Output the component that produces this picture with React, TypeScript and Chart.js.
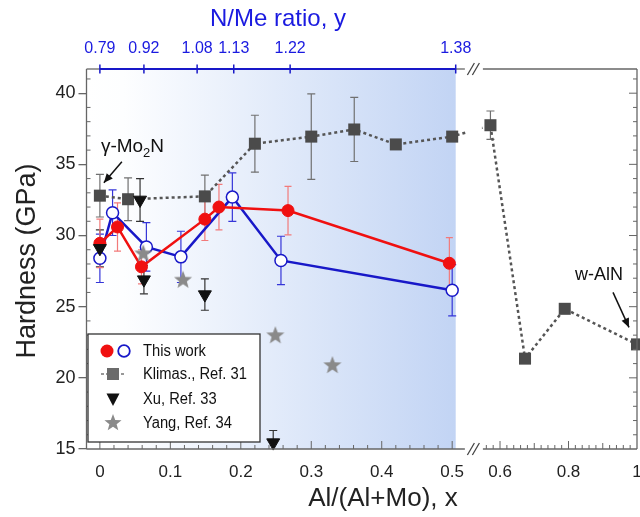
import React, { useEffect, useRef } from 'react';
import { Chart, registerables } from 'chart.js';

Chart.register(...registerables);

// ---------------- data ----------------
const RED_X = [0, 0.025, 0.059, 0.149, 0.169, 0.267, 0.496];
const RED_Y = [29.45, 30.6, 27.8, 31.15, 32.0, 31.75, 28.05];
const RED_ERR = [1.7, 1.7, 1.2, 1.5, 1.6, 1.7, 1.8];

const BLUE_X = [0, 0.018, 0.066, 0.115, 0.188, 0.257, 0.5];
const BLUE_Y = [28.4, 31.6, 29.2, 28.5, 32.7, 28.25, 26.15];
const BLUE_ERR = [1.7, 1.6, 1.7, 1.8, 1.7, 1.7, 1.8];

const KLIMAS_X = [0, 0.04, 0.149, 0.22, 0.3, 0.361, 0.42, 0.5, 0.572, 0.673, 0.789, 1.0];
const KLIMAS_Y = [32.8, 32.55, 32.75, 36.45, 36.95, 37.45, 36.4, 36.95, 37.75, 21.35, 24.85, 22.35];
const KLIMAS_ERR = [1.5, 1.5, 1.5, 2.0, 3.0, 2.25, 0, 0.3, 1.0, 0, 0, 0];

const XU_X = [0, 0.057, 0.0625, 0.149, 0.246];
const XU_Y = [29.1, 32.5, 26.9, 25.85, 15.45];
const XU_ERR = [1.3, 1.5, 1.0, 1.1, 0.85];

const YANG_X = [0.0616, 0.118, 0.249, 0.33];
const YANG_Y = [28.75, 26.9, 23.0, 20.9];

const X_TICKS = [0, 0.1, 0.2, 0.3, 0.4, 0.5, 0.6, 0.8, 1];
const X_TICK_LABELS = ['0', '0.1', '0.2', '0.3', '0.4', '0.5', '0.6', '0.8', '1'];
const Y_TICKS = [15, 20, 25, 30, 35, 40];
const TOP_POS = [0, 0.0625, 0.138, 0.19, 0.27, 0.505];
const TOP_LABELS = ['0.79', '0.92', '1.08', '1.13', '1.22', '1.38'];

// ---------------- broken-axis mapping ----------------
const LEFT_END = 0.518;
const RIGHT_START = 0.55;
const GAP = 0.0256;
const RATIO = 0.486;
const X_MIN = -0.019;
const V = (x: number) => (x <= LEFT_END ? x : LEFT_END + GAP + (x - RIGHT_START) * RATIO);
const X_MAX = V(1);
const Y_MIN = 15;
const Y_MAX = 41.7;

const FONT = '"Liberation Sans", Arial, Helvetica, sans-serif';
const BLUE = '#1818c8';
const TOPBLUE = '#1a1ae0';
const RED = '#f01010';
const FRAME = '#666666';

function starPath(ctx: CanvasRenderingContext2D, cx: number, cy: number, R: number, r: number) {
  ctx.beginPath();
  for (let i = 0; i < 10; i++) {
    const ang = -Math.PI / 2 + (i * Math.PI) / 5;
    const rad = i % 2 === 0 ? R : r;
    const x = cx + Math.cos(ang) * rad;
    const y = cy + Math.sin(ang) * rad;
    if (i === 0) ctx.moveTo(x, y);
    else ctx.lineTo(x, y);
  }
  ctx.closePath();
}

function arrow(ctx: CanvasRenderingContext2D, x1: number, y1: number, x2: number, y2: number) {
  ctx.beginPath();
  ctx.moveTo(x1, y1);
  ctx.lineTo(x2, y2);
  ctx.stroke();
  const ang = Math.atan2(y2 - y1, x2 - x1);
  const L = 9;
  const W = 4;
  ctx.beginPath();
  ctx.moveTo(x2, y2);
  ctx.lineTo(x2 - L * Math.cos(ang) + W * Math.sin(ang), y2 - L * Math.sin(ang) - W * Math.cos(ang));
  ctx.lineTo(x2 - L * Math.cos(ang) - W * Math.sin(ang), y2 - L * Math.sin(ang) + W * Math.cos(ang));
  ctx.closePath();
  ctx.fill();
}

function line(ctx: CanvasRenderingContext2D, x1: number, y1: number, x2: number, y2: number) {
  ctx.beginPath();
  ctx.moveTo(x1, y1);
  ctx.lineTo(x2, y2);
  ctx.stroke();
}

const ERRBARS = [
  { xs: KLIMAS_X, ys: KLIMAS_Y, es: KLIMAS_ERR, color: '#707070', cap: 4 },
  { xs: XU_X, ys: XU_Y, es: XU_ERR, color: '#333333', cap: 4 },
  { xs: BLUE_X, ys: BLUE_Y, es: BLUE_ERR, color: '#3535d8', cap: 4 },
  { xs: RED_X, ys: RED_Y, es: RED_ERR, color: '#f27a7a', cap: 3.5 },
];

const decorPlugin = {
  id: 'decor',
  beforeDatasetsDraw(chart: any) {
    const { ctx, chartArea: a, scales } = chart;
    const px = (x: number) => scales.x.getPixelForValue(V(x));
    const py = (y: number) => scales.y.getPixelForValue(y);
    ctx.save();
    const shadeEnd = px(TOP_POS[TOP_POS.length - 1]);
    const g = ctx.createLinearGradient(a.left, 0, shadeEnd, 0);
    g.addColorStop(0, '#ffffff');
    g.addColorStop(0.1, '#fdfeff');
    g.addColorStop(1, '#c2d4f4');
    ctx.fillStyle = g;
    ctx.fillRect(a.left, a.top, shadeEnd - a.left, a.bottom - a.top);

    ctx.beginPath();
    ctx.rect(a.left, a.top, a.right - a.left, a.bottom - a.top);
    ctx.clip();
    ctx.lineWidth = 1.2;
    for (const eb of ERRBARS) {
      ctx.strokeStyle = eb.color;
      eb.xs.forEach((x, i) => {
        const e = eb.es[i];
        if (!e) return;
        const cx = px(x);
        const t = py(eb.ys[i] + e);
        const b = py(eb.ys[i] - e);
        line(ctx, cx, t, cx, b);
        line(ctx, cx - eb.cap, t, cx + eb.cap, t);
        line(ctx, cx - eb.cap, b, cx + eb.cap, b);
      });
    }
    ctx.restore();
  },
  afterDatasetsDraw(chart: any) {
    const { ctx, chartArea: a, scales } = chart;
    const px = (x: number) => scales.x.getPixelForValue(V(x));
    const py = (y: number) => scales.y.getPixelForValue(y);
    const gapL = scales.x.getPixelForValue(LEFT_END);
    const gapR = scales.x.getPixelForValue(LEFT_END + GAP);
    ctx.save();
    // erase plot content inside the axis break
    ctx.fillStyle = '#ffffff';
    ctx.fillRect(gapL + 1, a.top + 1, gapR - gapL - 2, a.bottom - a.top - 2);

    // frame
    ctx.strokeStyle = FRAME;
    ctx.lineWidth = 1.3;
    line(ctx, a.left, a.top, a.left, a.bottom);
    line(ctx, a.right, a.top, a.right, a.bottom);
    line(ctx, a.left, a.bottom, gapL, a.bottom);
    line(ctx, gapR, a.bottom, a.right, a.bottom);
    const t0 = px(TOP_POS[0]);
    const t1 = px(TOP_POS[TOP_POS.length - 1]);
    line(ctx, a.left, a.top, t0, a.top);
    line(ctx, t1, a.top, gapL, a.top);
    line(ctx, gapR, a.top, a.right, a.top);

    // inward ticks, y
    ctx.lineWidth = 1;
    for (let v = 16; v <= 41; v++) {
      const y = py(v);
      const major = v % 5 === 0;
      if (!major) line(ctx, a.left, y, a.left + 4, y);
      line(ctx, a.right, y, a.right - (major ? 8 : 4), y);
    }
    // inward ticks, x
    for (let k = 0; k <= 25; k++) {
      const v = k * 0.02;
      const x = px(v);
      const major = k % 5 === 0;
      line(ctx, x, a.bottom, x, a.bottom - (major ? 8 : 4));
    }
    for (let k = 28; k <= 49; k++) {
      const v = k * 0.02;
      const x = px(v);
      const major = k % 10 === 0;
      line(ctx, x, a.bottom, x, a.bottom - (major ? 8 : k % 5 === 0 ? 6 : 4));
    }

    // break marks
    const gc = (gapL + gapR) / 2;
    ctx.strokeStyle = '#444';
    ctx.lineWidth = 1.3;
    for (const yy of [a.top, a.bottom]) {
      for (const dx of [-3, 2]) {
        line(ctx, gc + dx - 3.5, yy + 6, gc + dx + 3.5, yy - 6);
      }
    }

    // top (blue) axis
    ctx.strokeStyle = BLUE;
    ctx.lineWidth = 2;
    line(ctx, t0, a.top, t1, a.top);
    ctx.lineWidth = 1.5;
    TOP_POS.forEach((v) => {
      const x = px(v);
      line(ctx, x, a.top - 4.5, x, a.top + 4.5);
    });

    // legend
    const lx = a.left + 1.5;
    const ly = a.bottom - 115;
    const lw = 172;
    const lh = 108;
    ctx.fillStyle = '#ffffff';
    ctx.fillRect(lx, ly, lw, lh);
    ctx.strokeStyle = '#333';
    ctx.lineWidth = 1.3;
    ctx.strokeRect(lx, ly, lw, lh);
    const rows = [ly + 17, ly + 40, ly + 65, ly + 89];
    const mx = lx + 25;
    // row 1
    ctx.fillStyle = RED;
    ctx.beginPath();
    ctx.arc(lx + 19, rows[0], 6.5, 0, Math.PI * 2);
    ctx.fill();
    ctx.strokeStyle = BLUE;
    ctx.lineWidth = 1.8;
    ctx.beginPath();
    ctx.arc(lx + 36, rows[0], 5.8, 0, Math.PI * 2);
    ctx.stroke();
    // row 2
    ctx.strokeStyle = '#777';
    ctx.lineWidth = 1.5;
    ctx.setLineDash([3, 2]);
    line(ctx, lx + 13, rows[1], lx + 38, rows[1]);
    ctx.setLineDash([]);
    ctx.fillStyle = '#6b6b6b';
    ctx.fillRect(mx - 6, rows[1] - 6, 12, 12);
    // row 3
    ctx.fillStyle = '#111';
    ctx.beginPath();
    ctx.moveTo(mx - 6.5, rows[2] - 5.5);
    ctx.lineTo(mx + 6.5, rows[2] - 5.5);
    ctx.lineTo(mx, rows[2] + 7);
    ctx.closePath();
    ctx.fill();
    // row 4
    ctx.fillStyle = '#8a8a8a';
    starPath(ctx, mx, rows[3], 9, 3.8);
    ctx.fill();
    const labels = ['This work', 'Klimas., Ref. 31', 'Xu, Ref. 33', 'Yang, Ref. 34'];
    ctx.fillStyle = '#111';
    ctx.font = `16px ${FONT}`;
    ctx.textBaseline = 'middle';
    ctx.textAlign = 'left';
    labels.forEach((t, i) => {
      ctx.save();
      ctx.translate(lx + 55, rows[i] + 1);
      ctx.scale(0.92, 1);
      ctx.fillText(t, 0, 0);
      ctx.restore();
    });

    // annotations
    ctx.fillStyle = '#111';
    ctx.strokeStyle = '#111';
    ctx.lineWidth = 1.5;
    ctx.textBaseline = 'alphabetic';
    const gx = px(0);
    const gy = py(KLIMAS_Y[0]);
    ctx.font = `19px ${FONT}`;
    let tx = gx + 1;
    const base = gy - 44;
    ctx.fillText('γ-Mo', tx, base);
    tx += ctx.measureText('γ-Mo').width;
    ctx.font = `13px ${FONT}`;
    ctx.fillText('2', tx, base + 5);
    tx += ctx.measureText('2').width;
    ctx.font = `19px ${FONT}`;
    ctx.fillText('N', tx, base);
    arrow(ctx, gx + 22, gy - 34, gx + 4, gy - 13);

    const wx = px(1);
    const wy = py(KLIMAS_Y[KLIMAS_Y.length - 1]);
    ctx.font = `18px ${FONT}`;
    ctx.fillText('w-AlN', wx - 62, wy - 64);
    arrow(ctx, wx - 24, wy - 52, wx - 8, wy - 17);

    // axis titles
    ctx.fillStyle = '#222';
    ctx.textAlign = 'center';
    ctx.textBaseline = 'middle';
    ctx.font = `26px ${FONT}`;
    ctx.fillText('Al/(Al+Mo), x', 383, 499);
    ctx.save();
    ctx.translate(28, (a.top + a.bottom) / 2 + 2);
    ctx.rotate(-Math.PI / 2);
    ctx.font = `27px ${FONT}`;
    ctx.fillText('Hardness (GPa)', 0, 0);
    ctx.restore();
    ctx.fillStyle = TOPBLUE;
    ctx.font = `24px ${FONT}`;
    ctx.fillText('N/Me ratio, y', 278, 19);
    ctx.restore();
  },
};

export default function App() {
  const ref = useRef<HTMLCanvasElement | null>(null);
  useEffect(() => {
    const canvas = ref.current;
    if (!canvas) return;
    const star = document.createElement('canvas');
    star.width = 20;
    star.height = 20;
    const sctx = star.getContext('2d')!;
    sctx.fillStyle = '#8a8a8a';
    starPath(sctx, 10, 10.5, 9.5, 4);
    sctx.fill();

    const pts = (xs: number[], ys: number[]) => xs.map((x, i) => ({ x: V(x), y: ys[i] }));
    const chart = new Chart(canvas, {
      type: 'scatter',
      data: {
        datasets: [
          {
            label: 'Xu, Ref. 33',
            data: pts(XU_X, XU_Y),
            showLine: false,
            pointStyle: 'triangle',
            pointRotation: 180,
            pointRadius: 7.5,
            pointBackgroundColor: '#111',
            pointBorderColor: '#111',
            pointBorderWidth: 1,
            clip: false,
          } as any,
          {
            label: 'Yang, Ref. 34',
            data: pts(YANG_X, YANG_Y),
            showLine: false,
            pointStyle: star,
            pointRadius: 9,
            clip: false,
          } as any,
          {
            label: 'This work',
            data: pts(RED_X, RED_Y),
            showLine: true,
            borderColor: RED,
            borderWidth: 2.5,
            pointRadius: 6,
            pointBackgroundColor: RED,
            pointBorderColor: RED,
            pointBorderWidth: 1,
            clip: false,
          } as any,
          {
            label: 'This work (open)',
            data: pts(BLUE_X, BLUE_Y),
            showLine: true,
            borderColor: BLUE,
            borderWidth: 2.5,
            pointRadius: 6,
            pointBackgroundColor: '#ffffff',
            pointBorderColor: BLUE,
            pointBorderWidth: 1.5,
            clip: false,
          } as any,
          {
            label: 'Klimas., Ref. 31',
            data: pts(KLIMAS_X, KLIMAS_Y),
            showLine: true,
            borderColor: '#555555',
            borderWidth: 2.5,
            borderDash: [3, 3],
            pointStyle: 'rect',
            pointRadius: 8.5,
            pointBackgroundColor: '#4b4b4b',
            pointBorderColor: '#4b4b4b',
            pointBorderWidth: 0,
            clip: false,
          } as any,
        ],
      },
      options: {
        responsive: false,
        animation: false,
        events: [],
        layout: { autoPadding: false, padding: { left: 0, right: 3, top: 0, bottom: 0 } },
        plugins: { legend: { display: false }, tooltip: { enabled: false } },
        scales: {
          x: {
            type: 'linear',
            position: 'bottom',
            min: X_MIN,
            max: X_MAX,
            afterBuildTicks: (s: any) => {
              s.ticks = X_TICKS.map((v) => ({ value: V(v) }));
            },
            ticks: {
              callback: (_v: any, i: number) => X_TICK_LABELS[i],
              font: { size: 17, family: FONT },
              color: '#222',
              padding: 13,
              autoSkip: false,
              maxRotation: 0,
            },
            grid: { display: false, drawTicks: false },
            border: { display: false },
            afterFit: (s: any) => {
              s.height = 68;
              s.paddingLeft = 0;
              s.paddingRight = 0;
            },
          },
          x2: {
            type: 'linear',
            position: 'top',
            min: X_MIN,
            max: X_MAX,
            afterBuildTicks: (s: any) => {
              s.ticks = TOP_POS.map((v) => ({ value: V(v) }));
            },
            ticks: {
              callback: (_v: any, i: number) => TOP_LABELS[i],
              font: { size: 16, family: FONT },
              color: TOPBLUE,
              padding: 11,
              autoSkip: false,
              maxRotation: 0,
            },
            grid: { display: false, drawTicks: false },
            border: { display: false },
            afterFit: (s: any) => {
              s.height = 69;
              s.paddingLeft = 0;
              s.paddingRight = 0;
            },
          },
          y: {
            type: 'linear',
            min: Y_MIN,
            max: Y_MAX,
            afterBuildTicks: (s: any) => {
              s.ticks = Y_TICKS.map((v) => ({ value: v }));
            },
            ticks: { font: { size: 18, family: FONT }, color: '#222', padding: 3 },
            grid: { display: true, drawOnChartArea: false, drawTicks: true, tickLength: 8, color: FRAME, lineWidth: 1.3 },
            border: { display: false },
            afterFit: (s: any) => {
              s.width = 86.5;
            },
          },
        },
      } as any,
      plugins: [decorPlugin],
    });
    return () => chart.destroy();
  }, []);

  return (
    <div style={{ position: 'absolute', left: 0, top: 0, width: 640, height: 517 }}>
      <canvas ref={ref} width={640} height={517} style={{ width: 640, height: 517, display: 'block' }} />
    </div>
  );
}
